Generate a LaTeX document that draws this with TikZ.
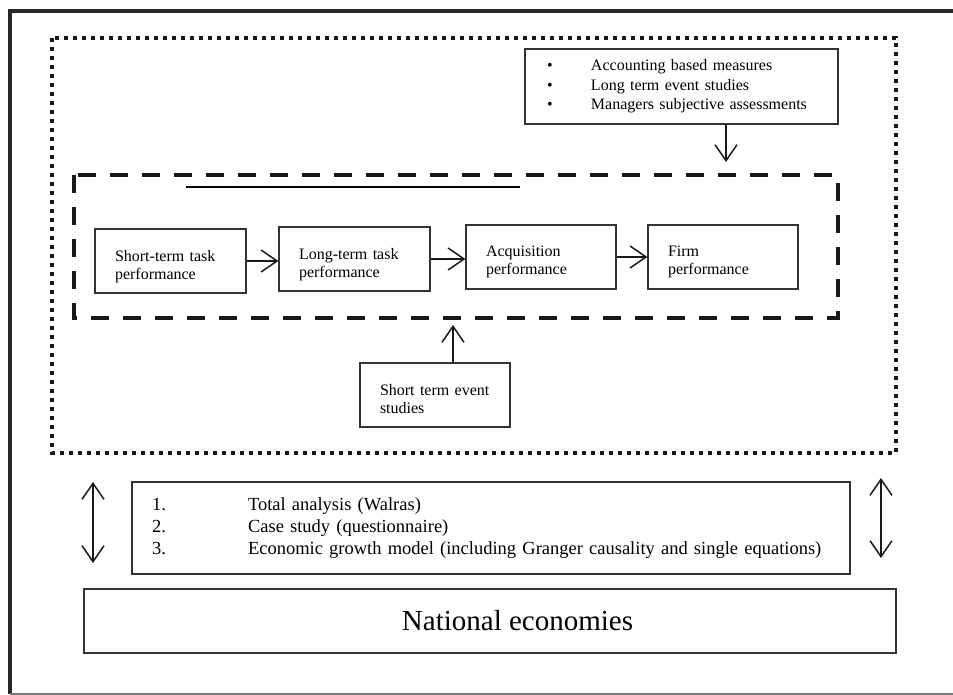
\documentclass[tikz,border=0pt]{standalone}
\usepackage{fontspec}
\setmainfont{Liberation Serif}
\usepackage{xcolor}
\usepackage{tikz}
\usetikzlibrary{arrows.meta,calc}
\definecolor{linegray}{HTML}{333333}
\definecolor{framegray}{HTML}{7A7A7A}
\tikzset{
  box/.style={draw=linegray, line width=1.2pt, align=left, inner xsep=20pt, inner ysep=0pt, text width=111pt, minimum height=64pt, text depth=11pt, font=\fontsize{16}{18}\selectfont},
  listbox/.style={draw=linegray, line width=1.2pt, align=left, inner xsep=20pt, inner ysep=0pt, font=\fontsize{18.5}{22}\selectfont},
  bulletbox/.style={draw=linegray, line width=1.2pt, align=left, inner xsep=22pt, inner ysep=0pt, font=\fontsize{16}{19.5}\selectfont},
  bigbox/.style={draw=linegray, line width=1.2pt, align=center, inner sep=0pt, font=\fontsize{29}{32}\selectfont},
  arrow/.style={-{Straight Barb[length=16pt,width=22pt]}, line width=1.5pt, draw=black!90},
  twoway/.style={{Straight Barb[length=16pt,width=22pt]}-{Straight Barb[length=16pt,width=22pt]}, line width=1.5pt, draw=black!90},
  dotframe/.style={draw=black!90, line width=4pt, dash pattern=on 4pt off 5pt},
  dashframe/.style={draw=black!90, line width=4.5pt, dash pattern=on 18pt off 14pt}
}

\begin{document}
\begin{tikzpicture}[x=1pt, y=-1pt]
  \useasboundingbox (0,0) rectangle (953,695);

  % page frame
  \draw[line width=4pt, draw=black!85] (10,694) -- (10,11) -- (953,11);
  \draw[line width=1.3pt, draw=framegray] (10,694) -- (953,694);

  % outer and inner frames
  \draw[dotframe] (52,38) rectangle (896,453);
  \draw[dashframe] (74,175) rectangle (838,318);
  \draw[line width=1.6pt] (186,187) -- (520,187);

  \node[bulletbox, minimum width=313pt, minimum height=75pt, text width=269pt] (measures) at (681.5,86.5) {%
    \begin{tabular}{@{}p{44pt}@{}l@{}}
      \textbullet & Accounting based measures\\
      \textbullet & Long term event studies\\
      \textbullet & Managers subjective assessments
    \end{tabular}};

  \node[box] (shortterm) at (170.5,261) {Short-term task\\performance};
  \node[box] (longterm) at (354.5,259) {Long-term task\\performance};
  \node[box, text width=110pt] (acquisition) at (541,257) {Acquisition\\performance};
  \node[box, text width=110pt] (firm) at (723,257) {Firm\\performance};

  \node[box, text width=110pt] (events) at (435,395) {Short term event\\studies};

  \node[listbox, minimum width=718pt, minimum height=92pt, text width=678pt] (methods) at (491,528) {%
    \begin{tabular}{@{}p{96pt}@{}l@{}}
      1. & Total analysis (Walras)\\
      2. & Case study (questionnaire)\\
      3. & Economic growth model (including Granger causality and single equations)
    \end{tabular}};

  \node[bigbox, minimum width=812pt, minimum height=64pt] (national) at (490,621) {\hspace*{55pt}National economies};

  \coordinate (downtip) at (726,162);
  \coordinate (uptip) at (453,325);
  \coordinate (leftup) at (93,482);
  \coordinate (leftdown) at (93,563);
  \coordinate (rightup) at (881,478);
  \coordinate (rightdown) at (881,558);

  \draw[arrow] (shortterm.east) -- (shortterm.east -| longterm.west);
  \draw[arrow] (longterm.east) -- (longterm.east -| acquisition.west);
  \draw[arrow] (acquisition.east) -- (acquisition.east -| firm.west);
  \draw[arrow] (downtip |- measures.south) -- (downtip);
  \draw[arrow] (uptip |- events.north) -- (uptip);
  \draw[twoway] (leftup) -- (leftdown);
  \draw[twoway] (rightup) -- (rightdown);
\end{tikzpicture}
\end{document}
